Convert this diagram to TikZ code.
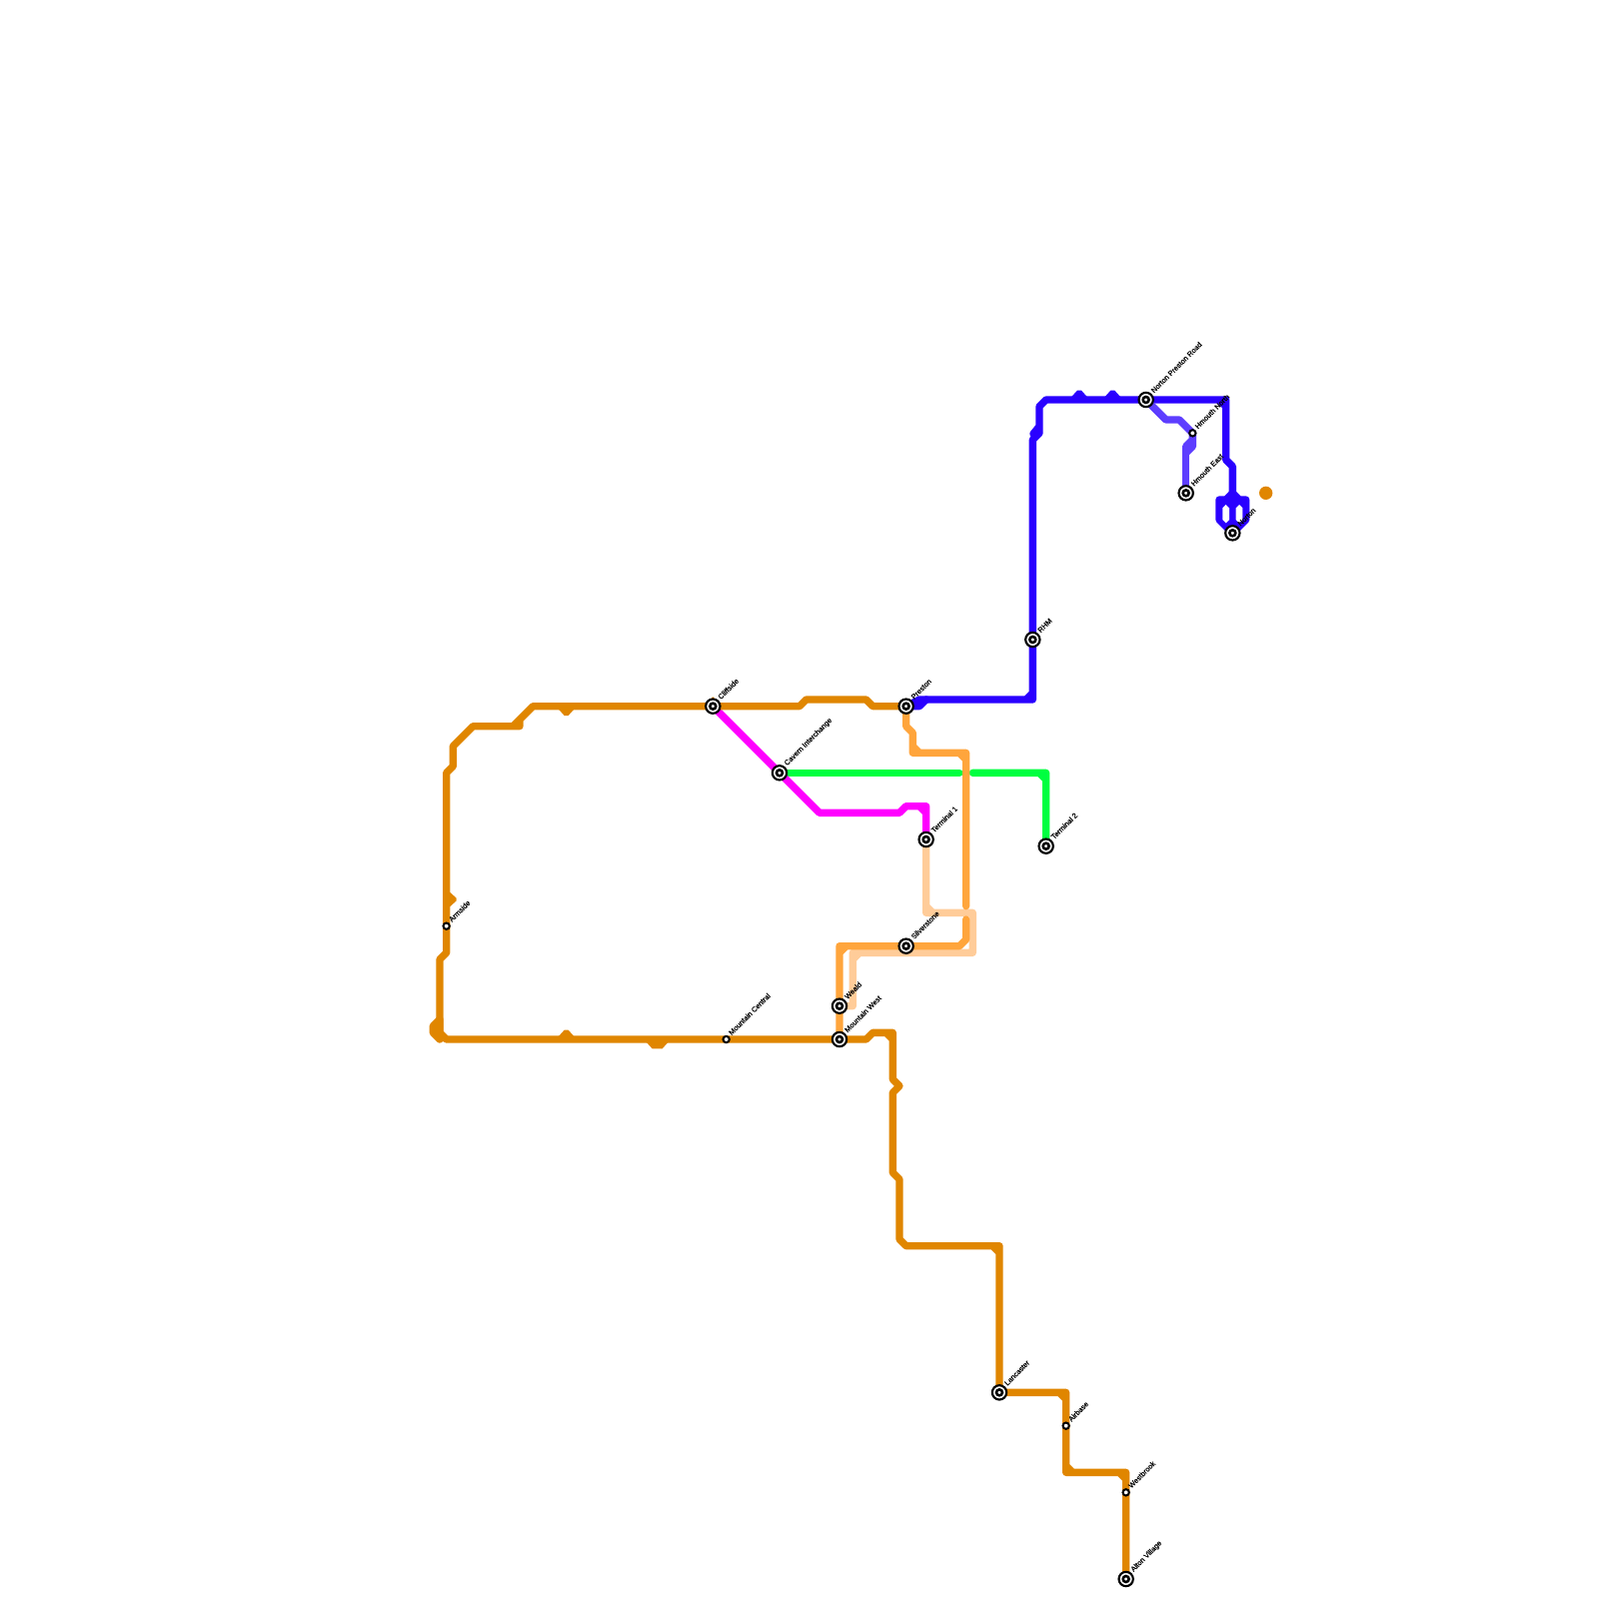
\documentclass[tikz,border=0pt]{standalone}
\usepackage{fontspec}
\usetikzlibrary{calc}
\setmainfont{Liberation Sans}
\newfontfamily\lblfont[FakeBold=0.35]{Liberation Sans}
\pgfdeclarelayer{bg}
\pgfsetlayers{bg,main}
\definecolor{cOrange}{RGB}{224,134,0}
\definecolor{cLight}{RGB}{255,165,60}
\definecolor{cPale}{RGB}{255,204,153}
\definecolor{cMag}{RGB}{255,0,255}
\definecolor{cGreen}{RGB}{0,255,64}
\definecolor{cBlue}{RGB}{42,0,255}
\definecolor{cViolet}{RGB}{93,61,255}
\tikzset{
  mline/.style={line width=1.1mm,line cap=round,line join=round},
  bigstn/.style={circle,draw=black,fill=white,line width=0.32mm,inner sep=0pt,minimum size=2.15mm,
    path picture={\draw[black,line width=0.38mm] (path picture bounding box.center) circle[radius=0.45mm];}},
  smallstn/.style={circle,draw=black,fill=white,line width=0.3mm,inner sep=0pt,minimum size=0.95mm},
  stnlabel/.style={anchor=west,rotate=45,inner sep=0pt,font=\lblfont\fontsize{3.1pt}{3.5pt}\selectfont,text=black}
}
\begin{document}
\begin{tikzpicture}[x=1mm,y=-1mm]
\useasboundingbox (0,0) rectangle (240,240);
% stations
\node[bigstn] (cliff) at (107,106) {};
\node[bigstn] (cavern) at (117,116) {};
\node[bigstn] (preston) at (136,106) {};
\node[bigstn] (term1) at (139,126) {};
\node[bigstn] (term2) at (157,127) {};
\node[bigstn] (silver) at (136,142) {};
\node[bigstn] (weald) at (126,151) {};
\node[bigstn] (mwest) at (126,156) {};
\node[smallstn] (mcentral) at (109,156) {};
\node[smallstn] (armside) at (67,139) {};
\node[bigstn] (rhm) at (155,96) {};
\node[bigstn] (npr) at (172,60) {};
\node[smallstn] (hnorth) at (179,65) {};
\node[bigstn] (heast) at (178,74) {};
\node[bigstn] (norton) at (185,80) {};
\node[bigstn] (lancaster) at (150,209) {};
\node[smallstn] (airbase) at (160,214) {};
\node[smallstn] (westbrook) at (169,224) {};
\node[bigstn] (alton) at (169,237) {};
\node[circle,fill=cOrange,inner sep=0pt,minimum size=2mm] (odot) at (190,74) {};
% labels
\node[stnlabel] (l1) at ($(cliff)+(0.9,-1.2)$) {Cliffside};
\node[stnlabel] (l2) at ($(cavern)+(0.9,-1.2)$) {Cavern Interchange};
\node[stnlabel] (l3) at ($(preston)+(0.9,-1.2)$) {Preston};
\node[stnlabel] (l4) at ($(term1)+(0.9,-1.2)$) {Terminal 1};
\node[stnlabel] (l5) at ($(term2)+(0.9,-1.2)$) {Terminal 2};
\node[stnlabel] (l6) at ($(silver)+(0.9,-1.2)$) {Silverstone};
\node[stnlabel] (l7) at ($(weald)+(0.9,-1.2)$) {Weald};
\node[stnlabel] (l8) at ($(mwest)+(0.9,-1.2)$) {Mountain West};
\node[stnlabel] (l9) at ($(mcentral)+(0.5,-0.8)$) {Mountain Central};
\node[stnlabel] (l10) at ($(armside)+(0.5,-0.8)$) {Armside};
\node[stnlabel] (l11) at ($(rhm)+(0.9,-1.2)$) {RHM};
\node[stnlabel] (l12) at ($(npr)+(0.9,-1.2)$) {Norton Preston Road};
\node[stnlabel] (l13) at ($(hnorth)+(0.5,-0.8)$) {Hmouth North};
\node[stnlabel] (l14) at ($(heast)+(0.9,-1.2)$) {Hmouth East};
\node[stnlabel] (l15) at ($(norton)+(0.9,-1.2)$) {Norton};
\node[stnlabel] (l16) at ($(lancaster)+(0.9,-1.2)$) {Lancaster};
\node[stnlabel] (l17) at ($(airbase)+(0.5,-0.8)$) {Airbase};
\node[stnlabel] (l18) at ($(westbrook)+(0.5,-0.8)$) {Westbrook};
\node[stnlabel] (l19) at ($(alton)+(0.9,-1.2)$) {Alton Village};
\begin{pgfonlayer}{bg}
\fill[white] (0,0) rectangle (240,240);
% green
\draw[mline,cGreen] (cavern.center) -- (144,116);
\draw[mline,cGreen] (146,116) -- (157,116) -- (157,117) -- (156,116) -- (157,117) -- (term2.center);
% magenta
\draw[mline,cMag] (cliff.center) -- (cavern.center) -- (123,122) -- (135,122) -- (136,121) -- (139,121) -- (139,122) -- (138,121) -- (139,122) -- (term1.center);
% pale
\draw[mline,cPale] (term1.center) -- (139,136) -- (139,137) -- (140,137) -- (139,136) -- (140,137) -- (146,137) -- (146,143) -- (129,143) -- (128,143) -- (128,144) -- (129,143) -- (128,144) -- (128,151) -- (weald.center);
% light orange
\draw[mline,cLight] (preston.center) -- (136,109) -- (137,110) -- (137,112) -- (137,113) -- (138,113) -- (137,112) -- (138,113) -- (144,113) -- (145,113) -- (145,114) -- (144,113) -- (145,114) -- (145,136);
\draw[mline,cLight] (145,138) -- (145,141) -- (144,142) -- (silver.center) -- (127,142) -- (126,142) -- (126,143) -- (127,142) -- (126,143) -- (weald.center) -- (mwest.center);
% orange
\draw[mline,cOrange] (preston.center) -- (131,106) -- (130,105) -- (121,105) -- (120,106) -- (cliff.center) -- (80,106) -- (77,109) -- (78,109) -- (78,108) -- (77,109) -- (71,109) -- (68,112) -- (68,115) -- (67,116) -- (armside.center) -- (67,143) -- (66,144) -- (66,155) -- (67,156) -- (mcentral.center) -- (mwest.center);
\fill[cOrange] (106,105.6) -- (107,104.6) -- (108,105.6) -- cycle;
\fill[cOrange] (83.8,106.4) -- (84.7,107.4) -- (85.3,107.4) -- (86.2,106.4) -- cycle;
\fill[cOrange] (83.8,155.6) -- (84.7,154.6) -- (85.3,154.6) -- (86.2,155.6) -- cycle;
\fill[cOrange] (97,156.4) -- (97.9,157.4) -- (99.4,157.4) -- (100.3,156.4) -- cycle;
\fill[cOrange] (67.4,133.8) -- (68.5,134.8) -- (68.5,135.2) -- (67.4,136.2) -- cycle;
\draw[mline,cOrange,fill=cOrange] (66,153) -- (65,154) -- (65,155) -- (66,156) -- cycle;
\draw[mline,cOrange] (mwest.center) -- (130,156) -- (131,155) -- (133,155) -- (134,155) -- (134,156) -- (133,155) -- (134,156) -- (134,162) -- (135,163) -- (134,164) -- (134,176) -- (135,177) -- (135,186) -- (136,187) -- (149,187) -- (150,187) -- (150,188) -- (149,187) -- (150,188) -- (lancaster.center);
\draw[mline,cOrange] (lancaster.center) -- (159,209) -- (160,209) -- (160,210) -- (159,209) -- (160,210) -- (airbase.center) -- (160,220) -- (160,221) -- (161,221) -- (160,220) -- (161,221) -- (168,221) -- (169,221) -- (169,222) -- (168,221) -- (169,222) -- (westbrook.center) -- (alton.center);
% blue
\draw[mline,cBlue,fill=cBlue] (preston.center) -- (138,106) -- (139,105) -- (138,105) -- cycle;
\draw[mline,cBlue] (139,105) -- (154,105) -- (155,105) -- (155,104) -- (154,105) -- (155,104) -- (rhm.center) -- (155,66) -- (156,65) -- (155.1,65.1) -- (156,64) -- (156,65) -- (156,61) -- (157,60) -- (npr.center) -- (183,60) -- (184,60) -- (184,61) -- (183,60) -- (184,61) -- (184,69) -- (185,70) -- (185,74);
\fill[cBlue] (160.8,59.6) -- (161.7,58.6) -- (162.3,58.6) -- (163.2,59.6) -- cycle;
\fill[cBlue] (165.8,59.6) -- (166.7,58.6) -- (167.3,58.6) -- (168.2,59.6) -- cycle;
\draw[mline,cBlue,fill=cBlue] (183,75) -- (184,75) -- (185,74) -- (186,75) -- (187,75) -- (187,78) -- (norton.center) -- (183,78) -- cycle;
\fill[white] (183.5,76.25) -- (184,75.75) -- (184.5,76.25) -- (184.5,78) -- (184,78.5) -- (183.5,78) -- cycle;
\fill[white] (185.5,76.25) -- (186,75.75) -- (186.5,76.25) -- (186.5,78) -- (186,78.5) -- (185.5,78) -- cycle;
% violet
\draw[mline,cViolet] (npr.center) -- (175,63) -- (177,63) -- (hnorth.center) -- (179,67) -- (178,68) -- (178,67) -- (179,66);
\draw[mline,cViolet] (178,68) -- (heast.center);
\end{pgfonlayer}
\end{tikzpicture}
\end{document}
